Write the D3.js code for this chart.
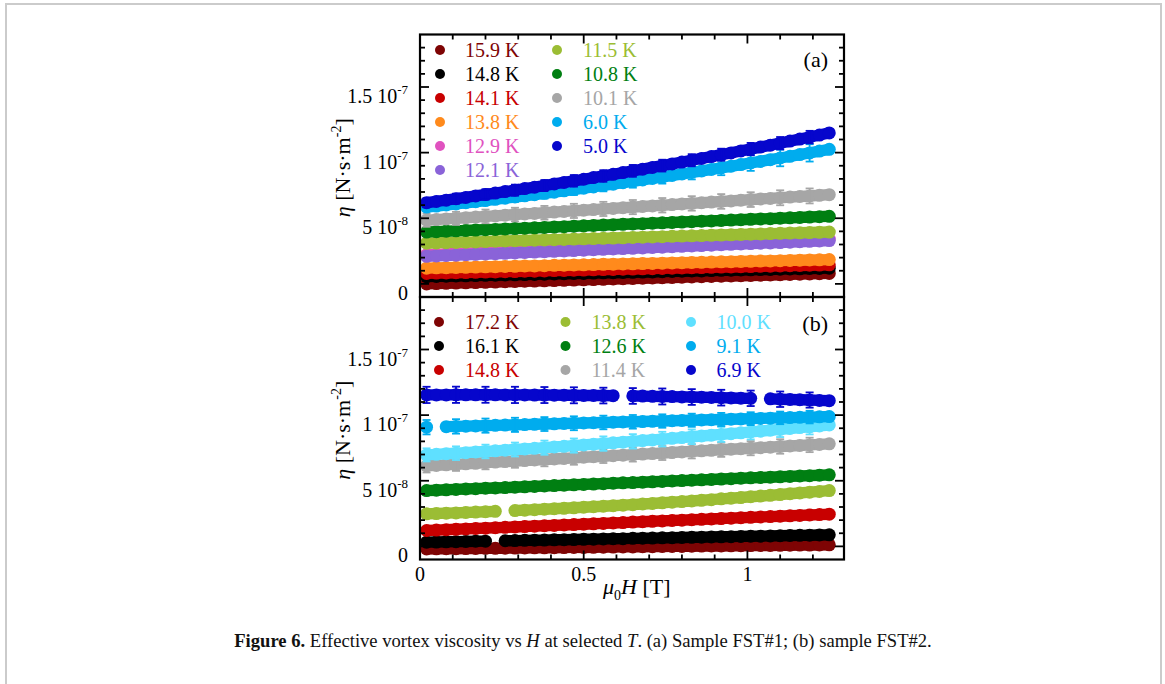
<!DOCTYPE html>
<html>
<head>
<meta charset="utf-8">
<script src="https://cdn.jsdelivr.net/npm/d3@7"></script>
<style>
  body { margin: 0; background: #fff; }
  svg { display: block; }
  text { font-family: "Liberation Serif", "DejaVu Serif", serif; }
</style>
</head>
<body>
<svg id="fig" width="1165" height="684"></svg>
<script>
// Applied field mu0H (T) at which eta was sampled
const fieldT = [0.02,0.05,0.08,0.11,0.14,0.17,0.20,0.23,0.26,0.29,0.32,0.35,0.38,0.41,0.44,0.47,0.50,0.53,0.56,0.59,0.62,0.65,0.68,0.71,0.74,0.77,0.80,0.83,0.86,0.89,0.92,0.95,0.98,1.01,1.04,1.07,1.10,1.13,1.16,1.19,1.22,1.25];

// Indices of fieldT where error bars are plotted
const errIdx = [0,3,6,9,12,15,18,21,24,27,30,33,36,39];

// Sample FST#1, eta in units of 1e-8 N s m^-2
const etaA_15_9 = [0.00,0.02,0.04,0.06,0.08,0.10,0.12,0.14,0.16,0.18,0.20,0.21,0.23,0.25,0.27,0.29,0.31,0.33,0.35,0.37,0.39,0.41,0.43,0.45,0.47,0.49,0.51,0.53,0.55,0.57,0.59,0.60,0.62,0.64,0.66,0.68,0.70,0.72,0.74,0.76,0.78,0.80];
const etaA_14_8 = [0.55,0.57,0.58,0.60,0.61,0.63,0.65,0.66,0.68,0.69,0.71,0.72,0.74,0.76,0.77,0.79,0.80,0.82,0.84,0.85,0.87,0.88,0.90,0.91,0.93,0.95,0.96,0.98,0.99,1.01,1.03,1.04,1.06,1.07,1.09,1.10,1.12,1.14,1.15,1.17,1.18,1.20];
const etaA_14_1 = [0.80,0.82,0.83,0.85,0.86,0.88,0.90,0.91,0.93,0.94,0.96,0.97,0.99,1.01,1.02,1.04,1.05,1.07,1.09,1.10,1.12,1.13,1.15,1.16,1.18,1.20,1.21,1.23,1.24,1.26,1.28,1.29,1.31,1.32,1.34,1.35,1.37,1.39,1.40,1.42,1.43,1.45];
const etaA_13_8 = [1.20,1.22,1.23,1.25,1.26,1.28,1.30,1.31,1.33,1.34,1.36,1.37,1.39,1.41,1.42,1.44,1.45,1.47,1.49,1.50,1.52,1.53,1.55,1.56,1.58,1.60,1.61,1.63,1.64,1.66,1.68,1.69,1.71,1.72,1.74,1.75,1.77,1.79,1.80,1.82,1.83,1.85];
const etaA_12_9 = [2.22,2.25,2.28,2.31,2.34,2.37,2.40,2.42,2.45,2.48,2.51,2.54,2.57,2.60,2.63,2.66,2.69,2.72,2.75,2.78,2.81,2.83,2.86,2.89,2.92,2.95,2.98,3.01,3.04,3.07,3.10,3.13,3.16,3.19,3.22,3.24,3.27,3.30,3.33,3.36,3.39,3.42];
const etaA_12_1 = [2.10,2.13,2.16,2.19,2.22,2.25,2.28,2.30,2.33,2.36,2.39,2.42,2.45,2.48,2.51,2.54,2.57,2.60,2.63,2.66,2.69,2.71,2.74,2.77,2.80,2.83,2.86,2.89,2.92,2.95,2.98,3.01,3.04,3.07,3.10,3.12,3.15,3.18,3.21,3.24,3.27,3.30];
const etaA_11_5 = [3.10,3.12,3.14,3.16,3.18,3.20,3.22,3.25,3.27,3.29,3.31,3.33,3.35,3.37,3.39,3.41,3.43,3.45,3.47,3.49,3.51,3.54,3.56,3.58,3.60,3.62,3.64,3.66,3.68,3.70,3.72,3.74,3.76,3.78,3.80,3.83,3.85,3.87,3.89,3.91,3.93,3.95];
const etaA_10_8 = [3.95,3.98,4.01,4.04,4.07,4.10,4.13,4.15,4.18,4.21,4.24,4.27,4.30,4.33,4.36,4.39,4.42,4.45,4.48,4.51,4.54,4.56,4.59,4.62,4.65,4.68,4.71,4.74,4.77,4.80,4.83,4.86,4.89,4.92,4.95,4.97,5.00,5.03,5.06,5.09,5.12,5.15];
const etaA_10_1 = [4.85,4.90,4.95,4.99,5.04,5.09,5.14,5.18,5.23,5.28,5.33,5.37,5.42,5.47,5.52,5.56,5.61,5.66,5.71,5.75,5.80,5.85,5.90,5.94,5.99,6.04,6.09,6.13,6.18,6.23,6.28,6.32,6.37,6.42,6.47,6.51,6.56,6.61,6.66,6.70,6.75,6.80];
const etaA_6_0 = [5.85,5.93,6.01,6.09,6.18,6.26,6.35,6.44,6.53,6.62,6.71,6.80,6.90,6.99,7.09,7.19,7.29,7.39,7.50,7.60,7.71,7.81,7.92,8.03,8.14,8.26,8.37,8.49,8.60,8.72,8.84,8.96,9.09,9.21,9.33,9.46,9.59,9.72,9.85,9.98,10.12,10.25];
const etaA_5_0 = [6.18,6.28,6.38,6.49,6.59,6.70,6.81,6.92,7.03,7.14,7.26,7.37,7.49,7.61,7.73,7.85,7.97,8.10,8.22,8.35,8.48,8.61,8.74,8.87,9.01,9.14,9.28,9.42,9.56,9.70,9.84,9.98,10.13,10.27,10.42,10.57,10.72,10.88,11.03,11.18,11.34,11.50];
const errA_10_1 = [0.50,0.50,0.52,0.52,0.52,0.54,0.54,0.54,0.55,0.55,0.56,0.56,0.57,0.57];
const errA_6_0 = [0.30,0.32,0.35,0.38,0.40,0.42,0.45,0.48,0.50,0.53,0.56,0.60,0.63,0.66];
const errA_5_0 = [0.35,0.38,0.40,0.42,0.42,0.44,0.44,0.45,0.45,0.46,0.46,0.47,0.47,0.48];

// Sample FST#2, eta in units of 1e-8 N s m^-2 (null = no point)
const etaB_17_2 = [-0.20,-0.19,-0.18,-0.18,-0.17,-0.16,-0.15,-0.15,-0.14,-0.13,-0.12,-0.11,-0.11,-0.10,-0.09,-0.08,-0.08,-0.07,-0.06,-0.05,-0.04,-0.04,-0.03,-0.02,-0.01,0.00,0.00,0.01,0.02,0.03,0.03,0.04,0.05,0.06,0.07,0.07,0.08,0.09,0.10,0.10,0.11,0.12];
const etaB_16_1 = [0.32,0.33,0.35,0.36,0.37,0.39,0.40,null,0.43,0.44,0.46,0.47,0.48,0.50,0.51,0.52,0.54,0.55,0.57,0.58,0.59,0.61,0.62,0.63,0.65,0.66,0.68,0.69,0.70,0.72,0.73,0.74,0.76,0.77,0.78,0.80,0.81,0.83,0.84,0.85,0.87,0.88];
const etaB_14_8 = [1.21,1.24,1.27,1.30,1.33,1.36,1.39,1.42,1.45,1.48,1.51,1.54,1.57,1.60,1.63,1.66,1.69,1.72,1.75,1.78,1.81,1.85,1.88,1.91,1.94,1.97,2.00,2.03,2.06,2.09,2.12,2.15,2.18,2.21,2.24,2.27,2.30,2.33,2.36,2.39,2.42,2.45];
const etaB_13_8 = [2.48,2.50,2.53,2.55,2.58,2.61,2.64,2.67,null,2.73,2.76,2.80,2.83,2.87,2.90,2.94,2.98,3.02,3.06,3.10,3.14,3.18,3.23,3.27,3.32,3.37,3.41,3.46,3.51,3.56,3.62,3.67,3.72,3.78,3.83,3.89,3.95,4.01,4.07,4.13,4.19,4.25];
const etaB_12_6 = [4.25,4.28,4.31,4.34,4.37,4.40,4.43,4.45,4.48,4.51,4.54,4.57,4.60,4.63,4.66,4.69,4.72,4.75,4.78,4.81,4.84,4.86,4.89,4.92,4.95,4.98,5.01,5.04,5.07,5.10,5.13,5.16,5.19,5.22,5.25,5.27,5.30,5.33,5.36,5.39,5.42,5.45];
const etaB_11_4 = [6.13,6.17,6.21,6.25,6.29,6.33,6.38,6.42,6.46,6.50,6.54,6.58,6.62,6.66,6.70,6.74,6.79,6.83,6.87,6.91,6.95,6.99,7.03,7.07,7.11,7.15,7.20,7.24,7.28,7.32,7.36,7.40,7.44,7.48,7.52,7.56,7.61,7.65,7.69,7.73,7.77,7.81];
const etaB_10_0 = [6.97,7.01,7.06,7.10,7.14,7.19,7.23,7.28,7.33,7.38,7.42,7.47,7.52,7.57,7.62,7.68,7.73,7.78,7.83,7.89,7.94,8.00,8.06,8.11,8.17,8.23,8.29,8.35,8.41,8.47,8.53,8.59,8.65,8.72,8.78,8.85,8.91,8.98,9.05,9.11,9.18,9.25];
const etaB_9_1 = [9.08,null,9.12,9.14,9.16,9.18,9.20,9.22,9.24,9.26,9.28,9.30,9.32,9.34,9.36,9.38,9.40,9.42,9.44,9.46,9.48,9.49,9.51,9.53,9.55,9.57,9.59,9.61,9.63,9.65,9.67,9.69,9.71,9.73,9.75,9.77,9.79,9.81,9.83,9.85,9.87,9.89];
const etaB_6_9 = [11.54,11.54,11.54,11.55,11.55,11.55,11.55,11.55,11.54,11.54,11.54,11.53,11.53,11.52,11.52,11.51,11.50,11.50,11.49,11.48,null,11.46,11.45,11.43,11.42,11.41,11.39,11.38,11.36,11.35,11.33,11.31,11.29,11.28,null,11.24,11.21,11.19,11.17,11.15,11.12,11.10];
const errB_11_4 = [0.50,0.50,0.51,0.51,0.52,0.52,0.52,0.53,0.53,0.54,0.54,0.54,0.55,0.55];
const errB_10_0 = [0.50,0.52,0.52,0.53,0.54,0.54,0.55,0.55,0.56,0.56,0.57,0.57,0.58,0.58];
const errB_9_1 = [0.55,0.55,0.54,0.54,0.53,0.53,0.52,0.52,0.51,0.50,0.50,0.49,0.48,0.48];
const errB_6_9 = [0.62,0.62,0.61,0.62,0.61,0.61,0.60,0.60,0.61,0.60,0.60,0.59,0.59,0.58];

// Axis ticks and labels
const yTickValues = [0, 5, 10, 15];
const yTickMantissa = ["0", "5 10", "1 10", "1.5 10"];
const yTickExponent = ["", "-8", "-7", "-7"];
const xTickValues = [0, 0.5, 1];
const xTickLabels = ["0", "0.5", "1"];

const C = {
  maroon: "#7e0404", black: "#000000", red: "#c80000", orange: "#ff8a1c",
  pink: "#e052bf", purple: "#8a63d8", lime: "#9bbd34", green: "#007f12",
  gray: "#a6a6a6", cyan: "#00acee", ice: "#5fe0ff", blue: "#0606cc"
};

const seriesA = [
  { label: "15.9 K", color: C.maroon, values: etaA_15_9 },
  { label: "14.8 K", color: C.black,  values: etaA_14_8 },
  { label: "14.1 K", color: C.red,    values: etaA_14_1 },
  { label: "13.8 K", color: C.orange, values: etaA_13_8 },
  { label: "12.9 K", color: C.pink,   values: etaA_12_9 },
  { label: "12.1 K", color: C.purple, values: etaA_12_1 },
  { label: "11.5 K", color: C.lime,   values: etaA_11_5 },
  { label: "10.8 K", color: C.green,  values: etaA_10_8 },
  { label: "10.1 K", color: C.gray,   values: etaA_10_1, err: errA_10_1 },
  { label: "6.0 K",  color: C.cyan,   values: etaA_6_0,  err: errA_6_0 },
  { label: "5.0 K",  color: C.blue,   values: etaA_5_0,  err: errA_5_0 }
];
const seriesB = [
  { label: "17.2 K", color: C.maroon, values: etaB_17_2 },
  { label: "16.1 K", color: C.black,  values: etaB_16_1 },
  { label: "14.8 K", color: C.red,    values: etaB_14_8 },
  { label: "13.8 K", color: C.lime,   values: etaB_13_8 },
  { label: "12.6 K", color: C.green,  values: etaB_12_6 },
  { label: "11.4 K", color: C.gray,   values: etaB_11_4, err: errB_11_4 },
  { label: "10.0 K", color: C.ice,    values: etaB_10_0, err: errB_10_0 },
  { label: "9.1 K",  color: C.cyan,   values: etaB_9_1,  err: errB_9_1 },
  { label: "6.9 K",  color: C.blue,   values: etaB_6_9,  err: errB_6_9 }
];

const svg = d3.select("#fig");

// light outer frame of the figure box
svg.append("rect")
  .attr("x", 6).attr("y", 4).attr("width", 1155).attr("height", 720)
  .attr("fill", "none").attr("stroke", "#cbcbcb").attr("stroke-width", 2);

const x = d3.scaleLinear().domain([0, 1.295]).range([420, 844]);

const panels = [
  { top: 34.5, bottom: 297, series: seriesA, tag: "(a)", tagY: 67, rows: 6,
    legDot: [440, 557], legText: [465, 583], legY0: 50 },
  { top: 297, bottom: 559.5, series: seriesB, tag: "(b)", tagY: 331, rows: 3,
    legDot: [439, 565.5, 691], legText: [465, 591.5, 716.5], legY0: 322 }
];

const R = 6.5;        // marker radius
const CAP = 4;        // error-bar half cap width
const MAJ = 9, MIN = 5;

panels.forEach(p => {
  const y = d3.scaleLinear().domain([-1, 19]).range([p.bottom, p.top]);
  const g = svg.append("g");
  const band = d3.line().defined(d => d.v !== null).x(d => x(d.h)).y(d => y(d.v));

  // data: dense markers (band + dots) then error bars, series in legend order
  p.series.forEach(s => {
    const all = fieldT.map((h, i) => ({ h, v: s.values[i] }));
    const pts = all.filter(d => d.v !== null);
    const sg = g.append("g");
    sg.append("path").attr("d", band(all)).attr("fill", "none")
      .attr("stroke", s.color).attr("stroke-width", 2 * R - 1.6)
      .attr("stroke-linecap", "round").attr("stroke-linejoin", "round");
    sg.selectAll("circle").data(pts).join("circle")
      .attr("cx", d => x(d.h)).attr("cy", d => y(d.v)).attr("r", R)
      .attr("fill", s.color);
    if (s.err) {
      const eb = errIdx.map((i, k) => ({ h: fieldT[i], v: s.values[i], e: s.err[k] }))
        .filter(d => d.v !== null);
      const eg = sg.append("g").attr("stroke", s.color).attr("stroke-width", 1.8).attr("fill", "none");
      eb.forEach(d => {
        const cx = x(d.h), y1 = y(d.v + d.e), y2 = y(d.v - d.e);
        eg.append("line").attr("x1", cx).attr("x2", cx).attr("y1", y1).attr("y2", y2);
        eg.append("line").attr("x1", cx - CAP).attr("x2", cx + CAP).attr("y1", y1).attr("y2", y1);
        eg.append("line").attr("x1", cx - CAP).attr("x2", cx + CAP).attr("y1", y2).attr("y2", y2);
      });
    }
  });

  // frame
  const ax = svg.append("g").attr("stroke", "#000").attr("fill", "none");
  ax.append("rect").attr("x", x(0)).attr("y", p.top)
    .attr("width", x.range()[1] - x(0)).attr("height", p.bottom - p.top)
    .attr("stroke-width", 2.2);

  // y ticks (every 1e-8, major every 5e-8), inward on both sides
  d3.range(-1, 20).forEach(v => {
    const len = (v % 5 === 0) ? MAJ : MIN;
    const yy = y(v);
    if (yy <= p.top + 0.5 || yy >= p.bottom - 0.5) return;
    ax.append("line").attr("x1", x(0)).attr("x2", x(0) + len).attr("y1", yy).attr("y2", yy).attr("stroke-width", 1.8);
    ax.append("line").attr("x1", x.range()[1]).attr("x2", x.range()[1] - len).attr("y1", yy).attr("y2", yy).attr("stroke-width", 1.8);
  });
  // x ticks (every 0.1 T, major every 0.5 T), inward on top and bottom
  d3.range(1, 13).forEach(k => {
    const h = k / 10;
    const len = (k % 5 === 0) ? MAJ : MIN;
    const xx = x(h);
    ax.append("line").attr("x1", xx).attr("x2", xx).attr("y1", p.bottom).attr("y2", p.bottom - len).attr("stroke-width", 1.8);
    ax.append("line").attr("x1", xx).attr("x2", xx).attr("y1", p.top).attr("y2", p.top + len).attr("stroke-width", 1.8);
  });

  // y tick labels with power-of-ten exponent
  yTickValues.forEach((v, i) => {
    const t = svg.append("text").attr("x", 408).attr("y", y(v) + 16)
      .attr("text-anchor", "end").attr("font-size", 20).attr("fill", "#000");
    t.append("tspan").text(yTickMantissa[i]);
    if (yTickExponent[i]) t.append("tspan").attr("dy", -9).attr("font-size", 13).text(yTickExponent[i]);
  });

  // y axis title
  const yc = (p.top + p.bottom) / 2 + 2;
  const yt = svg.append("text").attr("transform", `translate(350,${yc}) rotate(-90)`)
    .attr("text-anchor", "middle").attr("font-size", 22).attr("fill", "#000");
  yt.append("tspan").attr("font-style", "italic").text("η");
  yt.append("tspan").text(" [N·s·m");
  yt.append("tspan").attr("dy", -9).attr("font-size", 14).text("-2");
  yt.append("tspan").attr("dy", 9).text("]");

  // panel tag
  svg.append("text").attr("x", 828).attr("y", p.tagY).attr("text-anchor", "end")
    .attr("font-size", 22).attr("fill", "#000").text(p.tag);

  // legend, filled column by column
  p.series.forEach((s, k) => {
    const col = Math.floor(k / p.rows), row = k % p.rows;
    const cy = p.legY0 + row * 24;
    svg.append("circle").attr("cx", p.legDot[col]).attr("cy", cy).attr("r", 5).attr("fill", s.color);
    svg.append("text").attr("x", p.legText[col]).attr("y", cy + 7)
      .attr("font-size", 20).attr("fill", s.color).text(s.label);
  });
});

// x tick labels
xTickValues.forEach((v, i) => {
  svg.append("text").attr("x", x(v)).attr("y", 581).attr("text-anchor", "middle")
    .attr("font-size", 20).attr("fill", "#000").text(xTickLabels[i]);
});

// x axis title
const xt = svg.append("text").attr("x", 603).attr("y", 594).attr("font-size", 22).attr("fill", "#000");
xt.append("tspan").attr("font-style", "italic").text("μ");
xt.append("tspan").attr("dy", 6).attr("font-size", 14).text("0");
xt.append("tspan").attr("dy", -6).attr("font-style", "italic").text("H");
xt.append("tspan").text(" [T]");

// caption
const cap = svg.append("text").attr("x", 583).attr("y", 647).attr("text-anchor", "middle")
  .attr("font-size", 18.6).attr("fill", "#111");
cap.append("tspan").attr("font-weight", "bold").text("Figure 6.");
cap.append("tspan").text(" Effective vortex viscosity vs ");
cap.append("tspan").attr("font-style", "italic").text("H");
cap.append("tspan").text(" at selected ");
cap.append("tspan").attr("font-style", "italic").text("T");
cap.append("tspan").text(". (a) Sample FST#1; (b) sample FST#2.");
</script>
</body>
</html>
